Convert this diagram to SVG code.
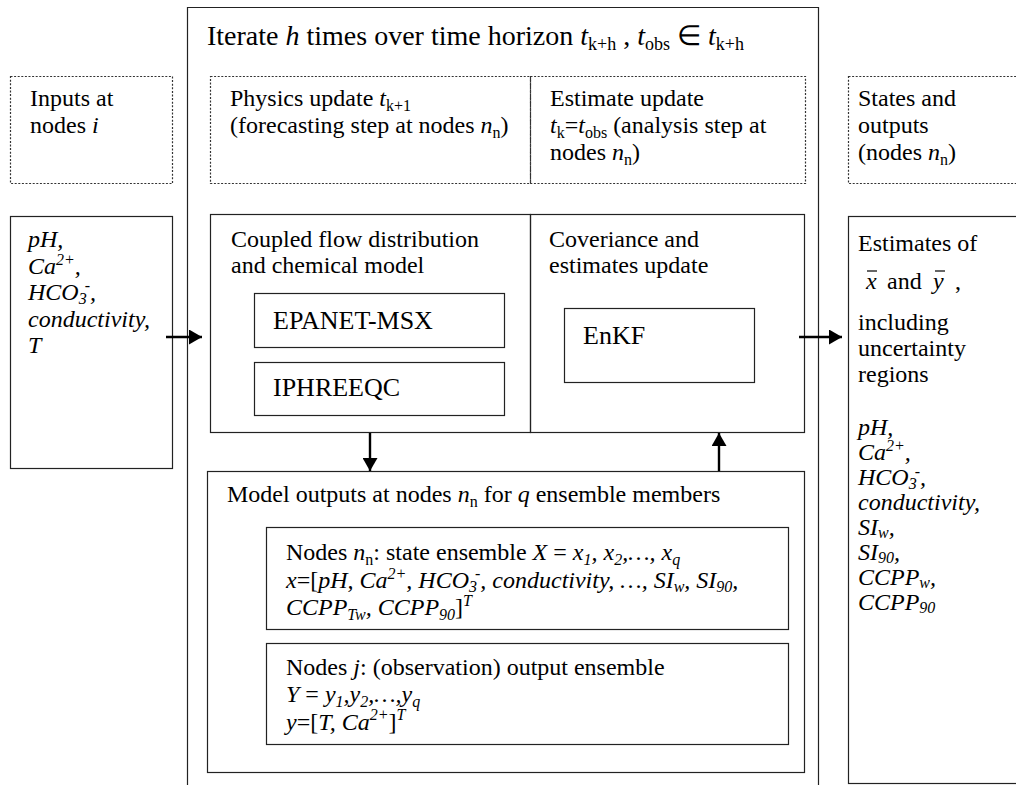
<svg xmlns="http://www.w3.org/2000/svg" width="1016" height="785" viewBox="0 0 1016 785">
<defs>
<style>
text{font-family:"Liberation Serif","Times New Roman",serif;font-size:24px;fill:#000}
.i{font-style:italic}
.big{font-size:26px}
.title{font-size:28px}
.ts{font-size:18px}
.s{font-size:16px}
.box{fill:none;stroke:#222;stroke-width:1.2}
.dash{fill:none;stroke:#333;stroke-width:1.2;stroke-dasharray:2 1.6}
.conn{stroke:#000;stroke-width:2.4;fill:none}
.bar{stroke:#000;stroke-width:1.2}
</style>
<marker id="ah" markerUnits="userSpaceOnUse" markerWidth="14" markerHeight="15" refX="13" refY="7.5" orient="auto">
<path d="M0,0 L13,7.5 L0,15 z" fill="#000"/>
</marker>
</defs>
<rect width="1016" height="785" fill="#fff"/>

<g id="iterate">
<path class="box" d="M187.5,800 V7.5 H818.5 V800"/>
<text class="title" x="207" y="45">Iterate <tspan class="i">h</tspan> times over time horizon <tspan class="i">t</tspan><tspan class="ts" dy="5">k+h</tspan><tspan dy="-5"> , </tspan><tspan class="i">t</tspan><tspan class="ts" dy="5">obs</tspan><tspan dy="-5"> ∈ </tspan><tspan class="i">t</tspan><tspan class="ts" dy="5">k+h</tspan></text>
</g>

<g id="inputs-header">
<rect class="dash" x="10.5" y="76.5" width="162" height="107"/>
<text x="30" y="106">Inputs at</text>
<text x="30" y="133">nodes <tspan class="i">i</tspan></text>
</g>

<g id="physics-header">
<rect class="dash" x="210.5" y="76.5" width="320" height="107"/>
<text x="230" y="106">Physics update <tspan class="i">t</tspan><tspan class="s" dy="5">k+1</tspan></text>
<text x="230" y="133">(forecasting step at nodes <tspan class="i">n</tspan><tspan class="s" dy="5">n</tspan><tspan dy="-5">)</tspan></text>
</g>

<g id="estimate-header">
<rect class="dash" x="530.5" y="76.5" width="275" height="107"/>
<text x="550" y="106">Estimate update</text>
<text x="550" y="133"><tspan class="i">t</tspan><tspan class="s" dy="5">k</tspan><tspan dy="-5">=</tspan><tspan class="i">t</tspan><tspan class="s" dy="5">obs</tspan><tspan dy="-5"> (analysis step at</tspan></text>
<text x="550" y="160">nodes <tspan class="i">n</tspan><tspan class="s" dy="5">n</tspan><tspan dy="-5">)</tspan></text>
</g>

<g id="states-header">
<rect class="dash" x="848.5" y="76.5" width="180" height="107"/>
<text x="858" y="106">States and</text>
<text x="858" y="133">outputs</text>
<text x="858" y="160">(nodes <tspan class="i">n</tspan><tspan class="s" dy="5">n</tspan><tspan dy="-5">)</tspan></text>
</g>

<g id="inputs">
<rect class="box" x="10.5" y="216.5" width="162" height="252"/>
<text class="i" x="28" y="247">pH,</text>
<text class="i" x="28" y="273.5">Ca<tspan class="s" dy="-9">2+</tspan><tspan dy="9">,</tspan></text>
<text class="i" x="28" y="300">HCO<tspan class="s" dy="4">3</tspan><tspan class="s" dx="-2" dy="-13">-</tspan><tspan dy="9">,</tspan></text>
<text class="i" x="28" y="326.5">conductivity,</text>
<text class="i" x="28" y="353">T</text>
</g>

<g id="coupled-model">
<rect class="box" x="210.5" y="214.5" width="320" height="218"/>
<text x="231" y="247">Coupled flow distribution</text>
<text x="231" y="273">and chemical model</text>
</g>

<g id="epanet">
<rect class="box" x="254.5" y="293.5" width="250" height="54"/>
<text class="big" x="273" y="329">EPANET-MSX</text>
</g>

<g id="iphreeqc">
<rect class="box" x="254.5" y="362.5" width="250" height="53"/>
<text class="big" x="273" y="396">IPHREEQC</text>
</g>

<g id="covariance">
<rect class="box" x="530.5" y="214.5" width="274" height="218"/>
<text x="549" y="247">Coveriance and</text>
<text x="549" y="273">estimates update</text>
</g>

<g id="enkf">
<rect class="box" x="564.5" y="308.5" width="190" height="74"/>
<text class="big" x="583" y="344">EnKF</text>
</g>

<g id="model-outputs">
<rect class="box" x="207.5" y="471.5" width="597" height="301"/>
<text x="227" y="502">Model outputs at nodes <tspan class="i">n</tspan><tspan class="s" dy="5">n</tspan><tspan dy="-5"> for </tspan><tspan class="i">q</tspan> ensemble members</text>
</g>

<g id="state-ensemble">
<rect class="box" x="266.5" y="527.5" width="522" height="102"/>
<text x="286" y="560">Nodes <tspan class="i">n</tspan><tspan class="s" dy="5">n</tspan><tspan dy="-5">: state ensemble </tspan><tspan class="i">X</tspan> = <tspan class="i">x</tspan><tspan class="s i" dy="5">1</tspan><tspan class="i" dy="-5">, x</tspan><tspan class="s i" dy="5">2</tspan><tspan class="i" dy="-5">,…, x</tspan><tspan class="s i" dy="5">q</tspan></text>
<text x="286" y="588"><tspan class="i">x</tspan>=[<tspan class="i">pH, Ca</tspan><tspan class="s i" dy="-9">2+</tspan><tspan class="i" dy="9">, HCO</tspan><tspan class="s i" dy="4">3</tspan><tspan class="s i" dx="-2" dy="-13">-</tspan><tspan class="i" dy="9">, conductivity, …, SI</tspan><tspan class="s i" dy="4">w</tspan><tspan class="i" dy="-4">, SI</tspan><tspan class="s i" dy="4">90</tspan><tspan class="i" dy="-4">,</tspan></text>
<text x="286" y="615"><tspan class="i">CCPP</tspan><tspan class="s i" dy="5">Tw</tspan><tspan class="i" dy="-5">, CCPP</tspan><tspan class="s i" dy="5">90</tspan><tspan dy="-5">]</tspan><tspan class="s i" dy="-9">T</tspan></text>
</g>

<g id="observation-ensemble">
<rect class="box" x="266.5" y="643.5" width="522" height="101"/>
<text x="286" y="675">Nodes <tspan class="i">j</tspan>: (observation) output ensemble</text>
<text x="286" y="702"><tspan class="i">Y</tspan> = <tspan class="i">y</tspan><tspan class="s i" dy="5">1</tspan><tspan class="i" dy="-5">,y</tspan><tspan class="s i" dy="5">2</tspan><tspan class="i" dy="-5">,…,y</tspan><tspan class="s i" dy="5">q</tspan></text>
<text x="286" y="730"><tspan class="i">y</tspan>=[<tspan class="i">T, Ca</tspan><tspan class="s i" dy="-10">2+</tspan><tspan dy="10">]</tspan><tspan class="s i" dy="-10">T</tspan></text>
</g>

<g id="estimates">
<rect class="box" x="848.5" y="216.5" width="180" height="567"/>
<text x="858" y="251">Estimates of</text>
<text class="i" x="866" y="289">x</text>
<line class="bar" x1="867" y1="271" x2="877" y2="271"/>
<text x="887" y="289">and</text>
<text class="i" x="933" y="289">y</text>
<line class="bar" x1="935" y1="271" x2="945" y2="271"/>
<text x="955" y="289">,</text>
<text x="858" y="330">including</text>
<text x="858" y="356">uncertainty</text>
<text x="858" y="382">regions</text>
<text class="i" x="858" y="435">pH,</text>
<text class="i" x="858" y="460">Ca<tspan class="s" dy="-9">2+</tspan><tspan dy="9">,</tspan></text>
<text class="i" x="858" y="485">HCO<tspan class="s" dy="4">3</tspan><tspan class="s" dx="-2" dy="-12">-</tspan><tspan dy="8">,</tspan></text>
<text class="i" x="858" y="510">conductivity,</text>
<text class="i" x="858" y="535">SI<tspan class="s" dy="3">w</tspan><tspan dy="-3">,</tspan></text>
<text class="i" x="858" y="560">SI<tspan class="s" dy="3">90</tspan><tspan dy="-3">,</tspan></text>
<text class="i" x="858" y="585">CCPP<tspan class="s" dy="3">w</tspan><tspan dy="-3">,</tspan></text>
<text class="i" x="858" y="610">CCPP<tspan class="s" dy="3">90</tspan></text>
</g>

<g id="connectors">
<line class="conn" x1="166" y1="337" x2="202" y2="337" marker-end="url(#ah)"/>
<line class="conn" x1="799" y1="337" x2="842" y2="337" marker-end="url(#ah)"/>
<line class="conn" x1="370" y1="433" x2="370" y2="471" marker-end="url(#ah)"/>
<line class="conn" x1="719" y1="471" x2="719" y2="433" marker-end="url(#ah)"/>
</g>
</svg>
